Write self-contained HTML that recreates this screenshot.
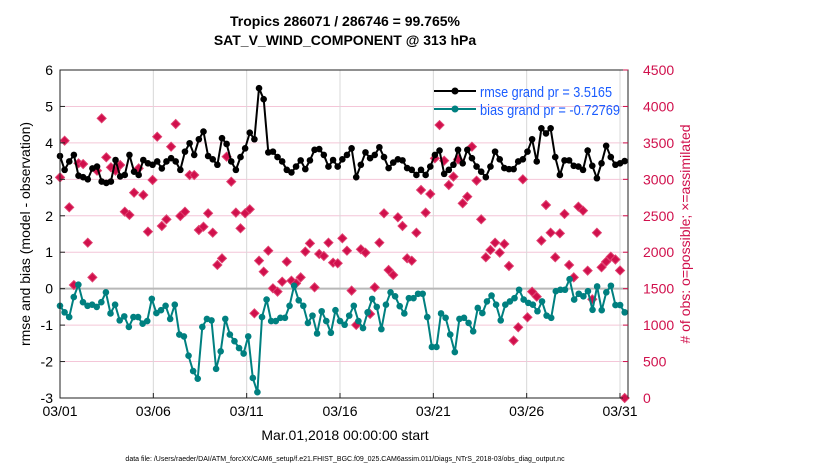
<!DOCTYPE html>
<html><head><meta charset="utf-8">
<style>
body{margin:0;background:#fff;}
svg{display:block;font-family:"Liberation Sans",sans-serif;}
</style></head>
<body>
<svg id="chart" width="830" height="470" xmlns="http://www.w3.org/2000/svg">
<rect width="830" height="470" fill="#fff"/>
<g id="grid"></g>
<g id="series"></g>
<rect x="60" y="70" width="568" height="328" fill="none" stroke="#222" stroke-width="1"/>
<g id="axes"></g>
<text x="345" y="26" text-anchor="middle" font-size="14" font-weight="bold">Tropics 286071 / 286746 = 99.765%</text>
<text x="345" y="45" text-anchor="middle" font-size="14" font-weight="bold">SAT_V_WIND_COMPONENT @ 313 hPa</text>
<text transform="translate(30,234) rotate(-90)" text-anchor="middle" font-size="14">rmse and bias (model - observation)</text>
<text transform="translate(690,234) rotate(-90)" text-anchor="middle" font-size="14" fill="#d0104c"># of obs: o=possible; ×=assimilated</text>
<text x="345" y="440" text-anchor="middle" font-size="14">Mar.01,2018 00:00:00 start</text>
<text x="345" y="461" text-anchor="middle" font-size="7">data file: /Users/raeder/DAI/ATM_forcXX/CAM6_setup/f.e21.FHIST_BGC.f09_025.CAM6assim.011/Diags_NTrS_2018-03/obs_diag_output.nc</text>
<g>
<line x1="434" y1="91" x2="476" y2="91" stroke="#000" stroke-width="2"/>
<circle cx="455" cy="91" r="3.5" fill="#000"/>
<text x="480" y="97" font-size="15" textLength="132" lengthAdjust="spacingAndGlyphs" fill="#1a5cff">rmse grand pr = 3.5165</text>
<line x1="434" y1="109" x2="476" y2="109" stroke="#008080" stroke-width="2"/>
<circle cx="455" cy="109" r="3.5" fill="#008080"/>
<text x="480" y="115" font-size="15" textLength="140" lengthAdjust="spacingAndGlyphs" fill="#1a5cff">bias grand pr = -0.72769</text>
</g>
</svg>
<script>
const xTickLabels=["03/01","03/06","03/11","03/16","03/21","03/26","03/31"];
const xTickDays=[0,5,10,15,20,25,30];
const yTicks=[-3,-2,-1,0,1,2,3,4,5,6];
const y2Ticks=[0,500,1000,1500,2000,2500,3000,3500,4000,4500];
const rmse=[3.64,3.26,3.49,3.67,3.1,3.06,3.0,3.3,3.35,2.94,2.9,2.94,3.53,3.08,3.12,3.67,3.21,3.12,3.53,3.44,3.4,3.49,3.3,3.49,3.58,3.49,3.26,3.76,3.99,
3.67,4.1,4.31,3.64,3.55,3.4,4.13,3.97,3.49,3.26,3.61,3.85,4.28,4.1,5.5,5.2,3.74,3.76,3.61,3.49,3.26,3.19,3.35,3.52,3.28,3.52,3.81,3.83,3.67,3.35,
3.53,3.35,3.55,3.67,3.85,3.06,3.4,3.74,3.58,3.67,3.88,3.61,3.31,3.46,3.55,3.52,3.31,3.26,3.12,3.26,3.12,3.35,3.67,3.79,3.15,3.26,3.4,3.81,3.44,3.81,
3.58,3.35,3.21,3.06,3.35,3.76,3.55,3.31,3.28,3.28,3.49,3.55,3.76,4.1,3.49,4.4,4.26,4.4,3.61,3.12,3.52,3.52,3.37,3.35,3.26,3.79,3.37,3.03,3.44,3.92,3.61,3.4,3.44,3.5];
const bias=[-0.47,-0.65,-0.78,-0.23,0.11,-0.37,-0.47,-0.44,-0.5,-0.37,-0.1,-0.68,-0.44,-0.87,-0.76,-1.05,-0.78,-0.78,-0.96,-0.89,-0.28,-0.67,-0.59,-0.47,-0.83,-0.44,-1.26,-1.31,-1.84,
-2.26,-2.47,-1.05,-0.83,-0.87,-2.2,-1.72,-0.83,-1.26,-1.44,-1.63,-1.78,-1.31,-2.45,-2.84,-0.78,-0.3,-0.89,-0.89,-0.8,-0.8,-0.47,0.08,-0.32,-0.47,-0.94,-0.74,-1.23,-0.62,-0.89,
-1.21,-0.59,-0.89,-0.99,-0.74,-0.47,-0.89,-1.08,-0.65,-0.28,-0.5,-1.11,-0.44,-0.1,-0.21,-0.48,-0.68,-0.26,-0.26,-0.14,-0.14,-0.78,-1.6,-1.6,-0.68,-0.8,-1.26,-1.74,-0.83,-0.8,
-0.94,-1.17,-0.53,-0.67,-0.35,-0.19,-0.44,-0.87,-0.44,-0.35,-0.26,-0.03,-0.3,-0.39,-0.44,-0.62,-0.35,-0.74,-0.8,-0.07,-0.03,-0.03,0.26,-0.3,-0.14,-0.21,-0.07,-0.58,0.06,-0.59,-0.1,0.08,-0.45,-0.45,-0.65];
const obs=[3027,3530,2616,1550,3220,3210,2131,1655,3119,3837,3302,3165,3119,3197,2556,2511,2817,3151,2785,2282,2991,3585,2360,2451,3448,3759,2497,2556,3059,3059,2305,
2350,2534,2268,1825,1916,3311,2968,2543,2328,2534,2589,1162,1884,1733,2021,1505,1459,1596,1870,1610,1573,1655,2008,2122,1518,1976,1948,2131,1857,
1848,2191,2021,1473,1002,2040,1994,1153,1518,2131,2534,1756,1688,2479,2360,1916,1884,2268,2854,2543,2799,3288,3745,3256,2922,3037,3274,2671,2762,3448,
2982,2451,1930,2031,2131,1994,2113,1811,787,970,3000,1107,1459,1390,2159,2648,2268,1930,2259,2525,1825,1655,2625,2570,1747,1354,2268,1793,1870,1939,1900,1750,0];
const NS="http://www.w3.org/2000/svg";
const X0=60,PXDAY=18.667,YT=70,YB=398;
function xDay(d){return X0+d*PXDAY;}
function yL(v){return YB-(v+3)/9*(YB-YT);}
function yR(v){return YB-v/4500*(YB-YT);}
function xIdx(i,n){return xDay(i*30.25/(n-1));}
function mk(tag,attrs,parent){const e=document.createElementNS(NS,tag);for(const k in attrs)e.setAttribute(k,attrs[k]);parent.appendChild(e);return e;}
const grid=document.getElementById('grid'),axes=document.getElementById('axes'),series=document.getElementById('series');
yTicks.forEach(v=>{
  const y=yL(v);
  if(v!==-3&&v!==6&&v!==0){const l=mk('line',{x1:X0,x2:628,y1:y,y2:y,stroke:'#f4c6d8','stroke-width':1},grid);
  
  }
  const t=mk('line',{x1:X0,x2:X0+5,y1:y,y2:y,stroke:'#222'},axes);
  
  
  const tx=mk('text',{x:53,y:y+5,'text-anchor':'end','font-size':14},axes);tx.textContent=v;
  
  
});
y2Ticks.forEach(v=>{
  const y=yR(v);
  const t=mk('line',{x1:623,x2:628,y1:y,y2:y,stroke:'#d0104c'},axes);
  
  
  const tx=mk('text',{x:643,y:y+5,'font-size':14,fill:'#d0104c'},axes);tx.textContent=v;
  
  
});
xTickDays.forEach((d,i)=>{
  const x=xDay(d);
  if(d>0){const g=mk('line',{x1:x,x2:x,y1:YT,y2:YB,stroke:'#d8d8d8'},grid);
  
  }
  const t=mk('line',{x1:x,x2:x,y1:YB-5,y2:YB,stroke:'#222'},axes);
  
  
  const tx=mk('text',{x:x,y:416,'text-anchor':'middle','font-size':14},axes);tx.textContent=xTickLabels[i];
  
  
});
const zl=mk('line',{x1:X0,x2:628,y1:yL(0),y2:yL(0),stroke:'#b8b8b8','stroke-width':2},grid);


obs.forEach((v,i)=>{
  const x=xIdx(i,obs.length),y=yR(v);
  const p=mk('path',{d:`M${x-4.5},${y}L${x},${y-4.5}L${x+4.5},${y}L${x},${y+4.5}Z`,fill:'#d0104c',stroke:'#e04070','stroke-width':1},series);
  
  
});
function drawLine(arr,color,name){
  const pts=arr.map((v,i)=>xIdx(i,arr.length).toFixed(1)+','+yL(v).toFixed(1)).join(' ');
  const pl=mk('polyline',{points:pts,fill:'none',stroke:color,'stroke-width':2},series);
  
  
  arr.forEach((v,i)=>{
    const c=mk('circle',{cx:xIdx(i,arr.length),cy:yL(v),r:3.3,fill:color},series);
    
    
  });
}
drawLine(bias,'#008080','bias');
drawLine(rmse,'#000000','rmse');
</script>
</body></html>
